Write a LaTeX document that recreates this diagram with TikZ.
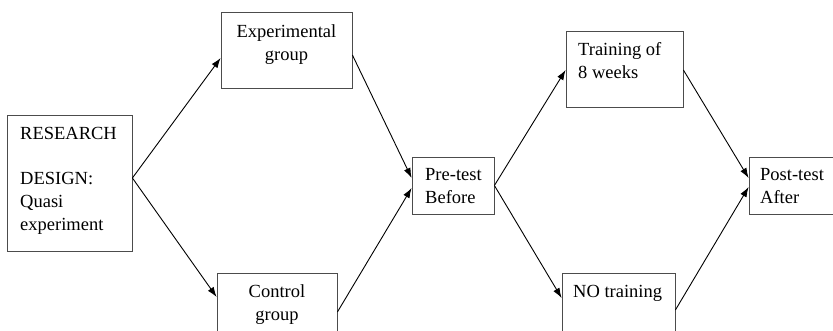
\documentclass[tikz,border=0pt]{standalone}
\usepackage{fontspec}
\setmainfont{Liberation Serif}
\usepackage{tikz}
\usetikzlibrary{arrows.meta}

\begin{document}
\begin{tikzpicture}[x=1pt,y=-1pt,
  box/.style={draw=black!70,line width=0.8pt,inner sep=0pt},
  txt/.style={inner sep=0pt,font=\fontsize{18.5}{23}\selectfont},
  arr/.style={line width=0.9pt,-{Latex[length=10pt,width=7pt]}}]
\useasboundingbox (0,0) rectangle (833,331);
\node [box,minimum width=125pt,minimum height=136pt] (design) at (69.5,183) {};
\node [box,minimum width=131pt,minimum height=76pt] (exp) at (286.5,50) {};
\node [box,minimum width=120pt,minimum height=76pt] (ctrl) at (277,311) {};
\node [box,minimum width=82pt,minimum height=57pt] (pre) at (453,185.5) {};
\node [box,minimum width=117pt,minimum height=76pt] (train) at (624.5,69) {};
\node [box,minimum width=113pt,minimum height=76pt] (notrain) at (618.5,311) {};
\node [box,minimum width=92pt,minimum height=57pt] (post) at (795,185.5) {};
\node [txt,align=left,anchor=west] (designtxt) at (20,181) {RESEARCH\\[22pt]DESIGN:\\Quasi\\experiment};
\node [txt,align=center] (exptxt) at (286.5,45) {Experimental\\group};
\node [txt,align=center] (ctrltxt) at (277,305) {Control\\group};
\node [txt,align=left,anchor=west] (pretxt) at (425,186) {Pre-test\\Before};
\node [txt,align=left,anchor=west] (traintxt) at (578,61) {Training of\\8 weeks};
\node [txt,anchor=west] (notraintxt) at (573,293) {NO training};
\node [txt,align=left,anchor=west] (posttxt) at (760,186) {Post-test\\After};
\draw [arr] ([yshift=5pt]design.east) -- ([yshift=-8pt]exp.west);
\draw [arr] ([yshift=5pt]design.east) -- ([yshift=14pt]ctrl.west);
\draw [arr] ([yshift=-5pt]exp.east) -- ([yshift=7.5pt]pre.west);
\draw [arr] ([yshift=-1pt]ctrl.east) -- ([yshift=-2.5pt]pre.west);
\draw [arr] (pre.east) -- ([yshift=-1pt]train.west);
\draw [arr] (pre.east) -- ([yshift=13pt]notrain.west);
\draw [arr] ([yshift=-1pt]train.east) -- ([yshift=7.5pt]post.west);
\draw [arr] ([yshift=1pt]notrain.east) -- ([yshift=-1.5pt]post.west);
\end{tikzpicture}
\end{document}
